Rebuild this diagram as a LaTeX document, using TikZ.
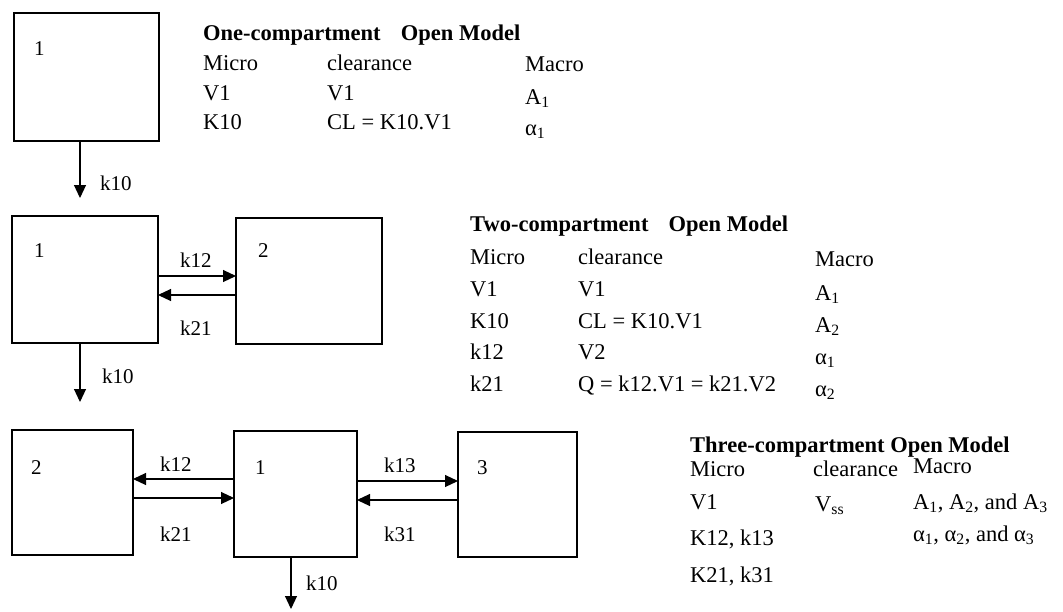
\documentclass[tikz,border=0pt]{standalone}
\usepackage{fontspec}
\setmainfont{Liberation Serif}
\usetikzlibrary{arrows.meta}
\begin{document}
\begin{tikzpicture}[x=1pt,y=-1pt,
  comp/.style={draw,line width=1.1pt},
  flow/.style={line width=1.1pt,-{Triangle[length=13pt,width=12pt]}},
  txt/.style={anchor=base west,inner sep=0pt,font=\fontsize{22.5}{26}\selectfont},
  ttl/.style={txt,font=\fontsize{22.5}{26}\selectfont\bfseries},
  lbl/.style={anchor=base west,inner sep=0pt,font=\fontsize{21}{24}\selectfont}]
\useasboundingbox (0,0) rectangle (1063,611);
% ---------- one-compartment ----------
\draw[comp] (14,13) rectangle (159,141);
\node[lbl] (a1) at (34,55) {1};
\coordinate (a1b) at (80,141);
\coordinate (a1e) at (80,198);
\draw[flow] (a1b) -- (a1e);
\node[lbl] (ak10) at (100,190) {k10};
\node[ttl] (t1) at (203,40) {One-compartment\hspace{0.9em}Open Model};
\node[txt] (t1m) at (203,70) {Micro};
\node[txt] (t1c) at (327,70) {clearance};
\node[txt] (t1M) at (525,71) {Macro};
\node[txt] (t1v) at (203,100) {V1};
\node[txt] (t1v2) at (327,100) {V1};
\node[txt] (t1a) at (525,104) {A\textsubscript{1}};
\node[txt] (t1k) at (203,129) {K10};
\node[txt] (t1cl) at (327,129) {CL = K10.V1};
\node[txt] (t1al) at (525,135) {α\textsubscript{1}};
% ---------- two-compartment ----------
\draw[comp] (12,216) rectangle (158,343);
\draw[comp] (236,218) rectangle (382,344);
\node[lbl] (b1) at (34,257) {1};
\node[lbl] (b2) at (258,257) {2};
\coordinate (b12s) at (158,276);
\coordinate (b12e) at (236,276);
\coordinate (b21s) at (236,295);
\coordinate (b21e) at (158,295);
\draw[flow] (b12s) -- (b12e);
\draw[flow] (b21s) -- (b21e);
\node[lbl] (bk12) at (180,267) {k12};
\node[lbl] (bk21) at (180,335) {k21};
\coordinate (b10s) at (80,343);
\coordinate (b10e) at (80,402);
\draw[flow] (b10s) -- (b10e);
\node[lbl] (bk10) at (102,383) {k10};
\node[ttl] (t2) at (470,231) {Two-compartment\hspace{0.9em}Open Model};
\node[txt] (t2m) at (470,264) {Micro};
\node[txt] (t2c) at (578,264) {clearance};
\node[txt] (t2M) at (815,266) {Macro};
\node[txt] (t2v) at (470,296) {V1};
\node[txt] (t2v2) at (578,296) {V1};
\node[txt] (t2a1) at (815,300) {A\textsubscript{1}};
\node[txt] (t2k) at (470,328) {K10};
\node[txt] (t2cl) at (578,328) {CL = K10.V1};
\node[txt] (t2a2) at (815,332) {A\textsubscript{2}};
\node[txt] (t2k12) at (470,359) {k12};
\node[txt] (t2V2) at (578,359) {V2};
\node[txt] (t2al1) at (815,364) {α\textsubscript{1}};
\node[txt] (t2k21) at (470,391) {k21};
\node[txt] (t2q) at (578,391) {Q = k12.V1 = k21.V2};
\node[txt] (t2al2) at (815,396) {α\textsubscript{2}};
% ---------- three-compartment ----------
\draw[comp] (12,430) rectangle (133,555);
\draw[comp] (234,431) rectangle (357,557);
\draw[comp] (458,432) rectangle (577,557);
\node[lbl] (c2) at (31,474) {2};
\node[lbl] (c1) at (255,474) {1};
\node[lbl] (c3) at (477,474) {3};
\coordinate (c12s) at (234,479);
\coordinate (c12e) at (133,479);
\coordinate (c21s) at (133,498);
\coordinate (c21e) at (234,498);
\draw[flow] (c12s) -- (c12e);
\draw[flow] (c21s) -- (c21e);
\node[lbl] (ck12) at (160,471) {k12};
\node[lbl] (ck21) at (160,541) {k21};
\coordinate (c13s) at (357,481);
\coordinate (c13e) at (458,481);
\coordinate (c31s) at (458,500);
\coordinate (c31e) at (357,500);
\draw[flow] (c13s) -- (c13e);
\draw[flow] (c31s) -- (c31e);
\node[lbl] (ck13) at (384,472) {k13};
\node[lbl] (ck31) at (384,541) {k31};
\coordinate (c10s) at (291,557);
\coordinate (c10e) at (291,609);
\draw[flow] (c10s) -- (c10e);
\node[lbl] (ck10) at (306,590) {k10};
\node[ttl] (t3) at (690,452) {Three-compartment Open Model};
\node[txt] (t3m) at (690,476) {Micro};
\node[txt] (t3c) at (813,476) {clearance};
\node[txt] (t3M) at (913,473) {Macro};
\node[txt] (t3v) at (690,509) {V1};
\node[txt] (t3vss) at (815,511) {V\textsubscript{ss}};
\node[txt] (t3a) at (913,509) {A\textsubscript{1}, A\textsubscript{2}, and A\textsubscript{3}};
\node[txt] (t3k1) at (690,545) {K12, k13};
\node[txt] (t3al) at (913,541) {α\textsubscript{1}, α\textsubscript{2}, and α\textsubscript{3}};
\node[txt] (t3k2) at (690,582) {K21, k31};
\end{tikzpicture}
\end{document}
